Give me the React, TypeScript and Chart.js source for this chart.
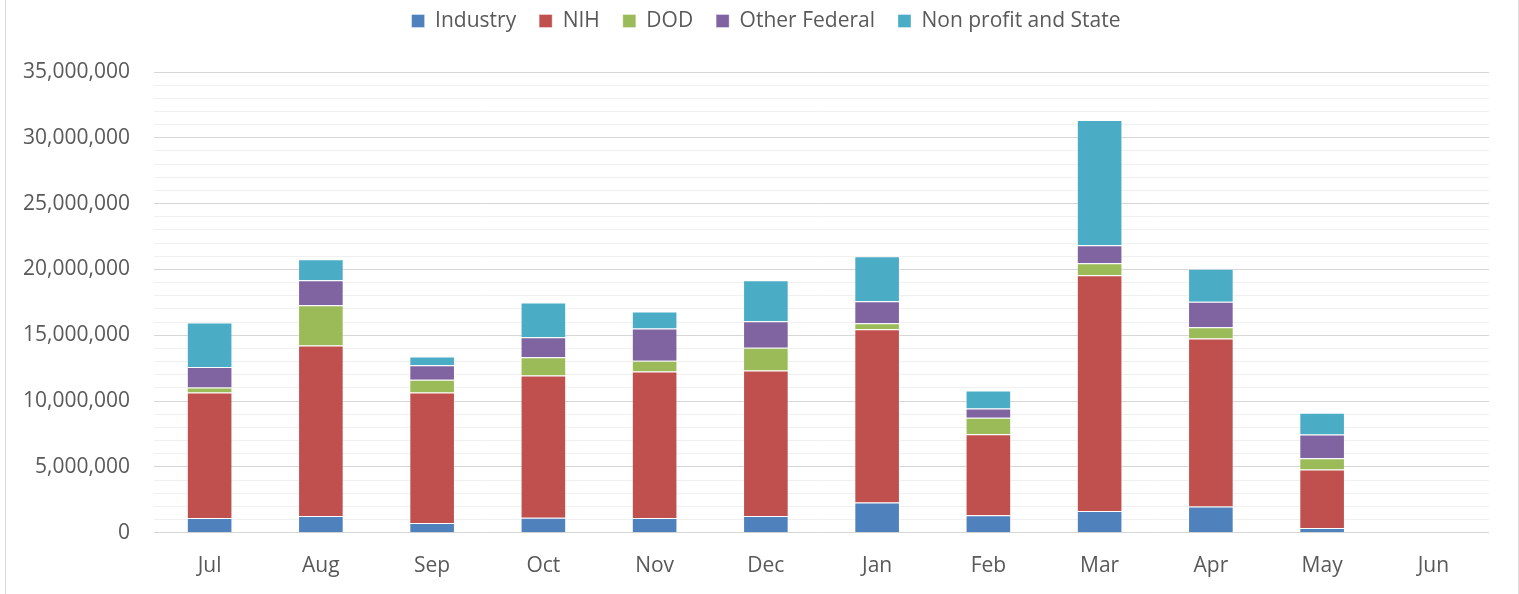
import React, { useEffect, useRef } from "react";
import { Chart, registerables } from "chart.js";

Chart.register(...registerables);

const months = ["Jul", "Aug", "Sep", "Oct", "Nov", "Dec", "Jan", "Feb", "Mar", "Apr", "May", "Jun"];
const seriesNames = ["Industry", "NIH", "DOD", "Other Federal", "Non profit and State"];
const industry = [1120000, 1270000, 740000, 1140000, 1120000, 1270000, 2300000, 1340000, 1650000, 2000000, 360000, null];
const nih = [9530000, 12950000, 9910000, 10800000, 11130000, 11050000, 13170000, 6150000, 17920000, 12750000, 4450000, null];
const dod = [380000, 3070000, 970000, 1400000, 810000, 1730000, 450000, 1240000, 910000, 870000, 860000, null];
const otherFederal = [1570000, 1900000, 1110000, 1520000, 2450000, 2020000, 1670000, 710000, 1370000, 1920000, 1790000, null];
const nonProfitState = [3370000, 1590000, 660000, 2630000, 1290000, 3120000, 3420000, 1360000, 9510000, 2510000, 1650000, null];
const yTickValues = [0, 5000000, 10000000, 15000000, 20000000, 25000000, 30000000, 35000000];

const colors = ["#4F81BD", "#C0504D", "#9BBB59", "#8064A2", "#4BACC6"];
const FONT = "'Open Sans', sans-serif";
const TEXT = "#595959";

export default function App() {
  const ref = useRef<HTMLCanvasElement>(null);

  useEffect(() => {
    const values = [industry, nih, dod, otherFederal, nonProfitState];
    const chart = new Chart(ref.current!, {
      type: "bar",
      data: {
        labels: months,
        datasets: values.map((d, i) => ({
          label: seriesNames[i],
          data: d,
          backgroundColor: colors[i],
          borderColor: "rgba(255,255,255,0.35)",
          borderWidth: 1,
          barPercentage: 0.41,
          categoryPercentage: 1,
        })),
      },
      options: {
        animation: false,
        responsive: true,
        maintainAspectRatio: false,
        layout: { padding: { left: 43, right: 30, top: -12.5, bottom: -6 } },
        plugins: {
          legend: {
            position: "top",
            labels: {
              boxWidth: 13,
              boxHeight: 13,
              padding: 23,
              color: TEXT,
              font: { family: FONT, size: 21 },
            },
          },
          subtitle: {
            display: true,
            text: "",
            weight: 500,
            font: { size: 1 },
            padding: { top: 0, bottom: 29.3 },
          } as any,
          tooltip: { enabled: false },
        },
        scales: {
          x: {
            stacked: true,
            grid: { display: false, drawTicks: false },
            border: { display: false },
            ticks: { color: TEXT, font: { family: FONT, size: 21 }, padding: 21 },
          },
          y: {
            stacked: true,
            min: 0,
            max: 35000000,
            border: { display: false },
            afterFit: (s: any) => {
              s.width = 111;
            },
            grid: {
              drawTicks: false,
              color: (ctx: any) => (yTickValues.includes(ctx.tick.value) ? "#d6d6d6" : "#f0f0f0"),
              lineWidth: 1,
            },
            ticks: {
              stepSize: 1000000,
              autoSkip: false,
              mirror: true,
              crossAlign: "far",
              padding: -131,
              color: TEXT,
              font: { family: FONT, size: 21 },
              callback: (v: any) => (yTickValues.includes(Number(v)) ? Number(v).toLocaleString("en-US") : ""),
            },
          },
        },
      },
    });
    return () => chart.destroy();
  }, []);

  return (
    <div style={{ position: "fixed", left: 0, top: 0, width: 1519, height: 594, background: "#fff" }}>
      <div
        style={{
          position: "absolute",
          left: 5,
          top: 0,
          width: 1514,
          height: 594,
          boxSizing: "border-box",
          borderLeft: "1px solid #d9d9d9",
          borderRight: "1px solid #d9d9d9",
        }}
      />
      <div style={{ position: "absolute", left: 0, top: 0, width: 1519, height: 594 }}>
        <canvas ref={ref} />
      </div>
    </div>
  );
}
